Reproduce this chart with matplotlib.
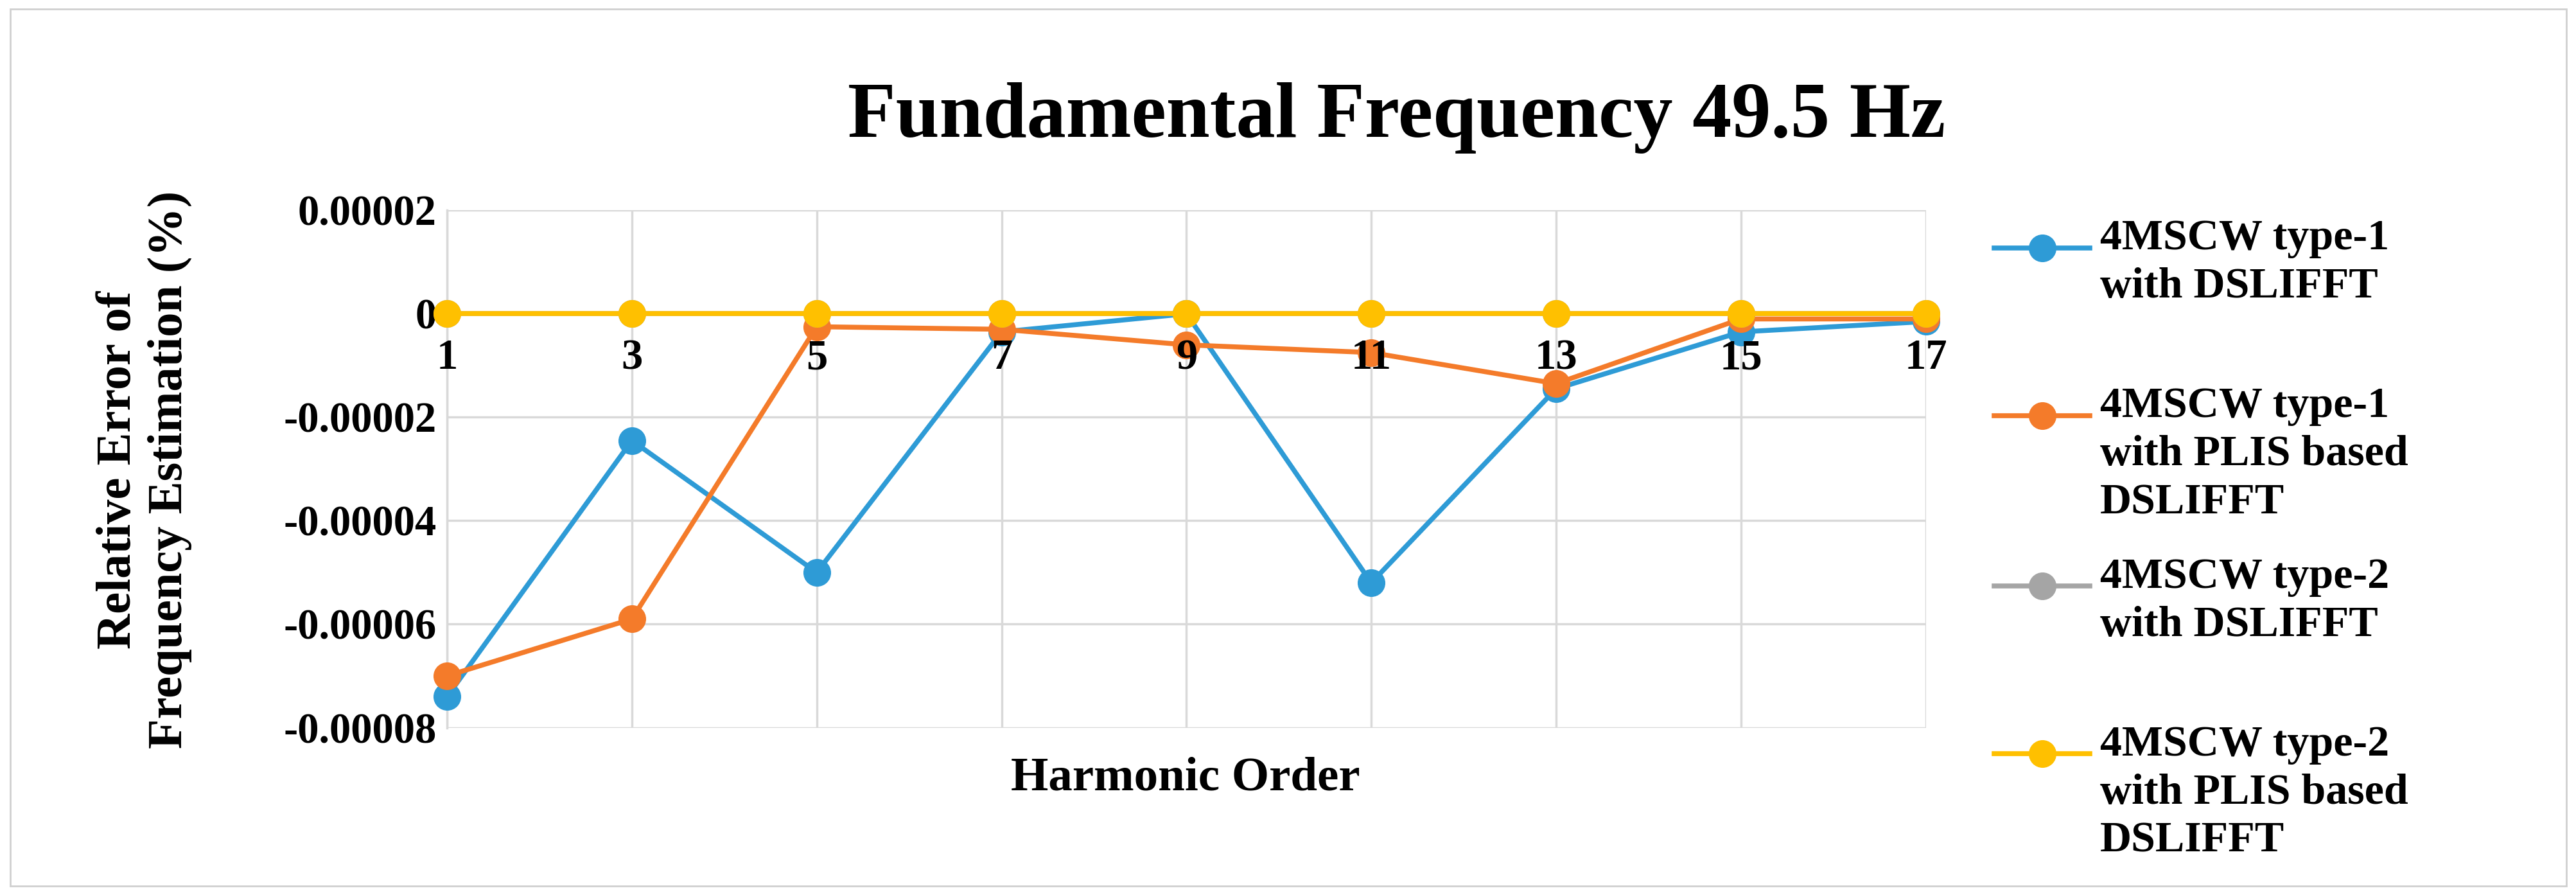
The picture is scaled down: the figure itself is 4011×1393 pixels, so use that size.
import matplotlib
matplotlib.use("Agg")
import matplotlib.pyplot as plt
from matplotlib.lines import Line2D
from matplotlib.patches import Rectangle

harmonics = [1, 3, 5, 7, 9, 11, 13, 15, 17]
type1_dslifft = [-0.000074, -0.0000245, -0.00005, -0.0000035, 0.0, -0.000052, -0.0000145, -0.0000035, -0.0000015]
type1_plis = [-0.00007, -0.000059, -0.0000025, -0.000003, -0.000006, -0.0000075, -0.0000135, -0.000001, -0.000001]
type2_dslifft = [0.0] * 9
type2_plis = [0.0] * 9
series_labels = ["4MSCW type-1\nwith DSLIFFT", "4MSCW type-1\nwith PLIS based\nDSLIFFT",
                 "4MSCW type-2\nwith DSLIFFT", "4MSCW type-2\nwith PLIS based\nDSLIFFT"]
colors = ["#2E9BD6", "#F47B2A", "#A5A5A5", "#FFC000"]
yticks = [0.00002, 0, -0.00002, -0.00004, -0.00006, -0.00008]
ytick_labels = ["0.00002", "0", "-0.00002", "-0.00004", "-0.00006", "-0.00008"]

plt.rcParams['font.family'] = ['Liberation Serif', 'DejaVu Serif']
plt.rcParams['font.weight'] = 'bold'

fig = plt.figure(figsize=(40.12, 13.93), dpi=100)
fig.add_artist(Rectangle((0.004, 0.01), 0.992, 0.98, transform=fig.transFigure,
                         fill=False, edgecolor="#d0d0d0", linewidth=2))
ax = fig.add_axes([0.1735, 0.187, 0.5739, 0.578])

for vals, c in zip([type1_dslifft, type1_plis, type2_dslifft, type2_plis], colors):
    ax.plot(harmonics, vals, color=c, lw=5.5, marker="o", markersize=30, zorder=3, clip_on=False)

ax.set_xlim(1, 17)
ax.set_ylim(-0.00008, 0.00002)
ax.set_yticks(yticks)
ax.set_yticklabels(ytick_labels, fontsize=48, fontweight="bold")
ax.set_xticks(harmonics)
ax.set_xticklabels([])
for h in harmonics:
    ax.annotate(str(h), (h, 0), xytext=(0, -50), textcoords="offset points",
                ha="center", va="center", fontsize=48, fontweight="bold", zorder=10,
                annotation_clip=False)
for s in ax.spines.values():
    s.set_visible(False)
ax.spines['left'].set_visible(True)
ax.spines['left'].set_color("#d9d9d9")
ax.spines['left'].set_linewidth(2.5)
ax.tick_params(length=0, pad=12)
ax.grid(True, color="#d9d9d9", linewidth=2.5, zorder=0)
ax.set_axisbelow(True)

fig.text(0.542, 0.868, "Fundamental Frequency 49.5 Hz", ha="center", va="center", fontsize=88, fontweight="bold")
fig.text(0.46, 0.13, "Harmonic Order", ha="center", va="center", fontsize=54, fontweight="bold")
fig.text(0.056, 0.475, "Relative Error of\nFrequency Estimation (%)", ha="center", va="center",
         rotation=90, fontsize=55, fontweight="bold", linespacing=1.2)

marker_y = [1 - 151/545, 1 - 253/545, 1 - 357/545, 1 - 459/545]
for lab, c, yy in zip(series_labels, colors, marker_y):
    fig.add_artist(Line2D([0.774, 0.811], [yy, yy], transform=fig.transFigure, color=c, lw=5.5))
    fig.add_artist(Line2D([0.7925], [yy], transform=fig.transFigure, color=c, marker="o", markersize=30))
    fig.text(0.815, yy + 0.032, lab, ha="left", va="top", fontsize=49, fontweight="bold", linespacing=1.3)

fig.savefig("out.png", dpi=100)
